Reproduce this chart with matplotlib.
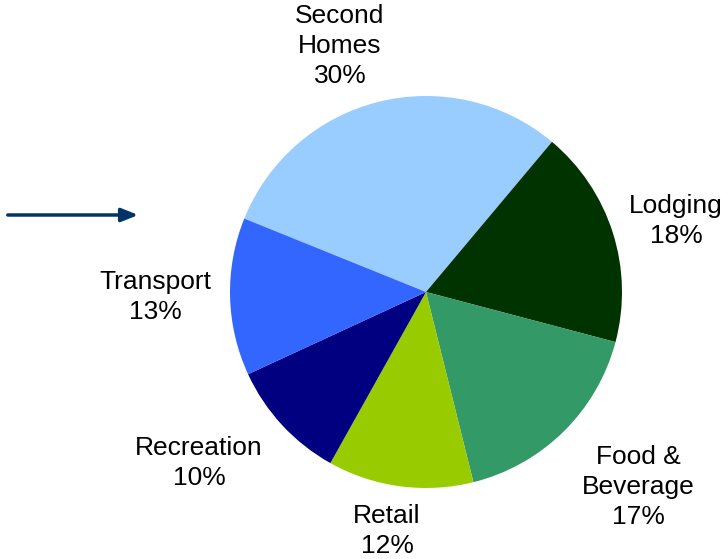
import matplotlib
matplotlib.use("Agg")
import matplotlib.pyplot as plt

# データ
categories = ["Second\nHomes", "Lodging", "Food &\nBeverage", "Retail", "Recreation", "Transport"]
shares = [30, 18, 17, 12, 10, 13]
colors = ["#99CCFF", "#003300", "#339966", "#99CC00", "#000080", "#3366FF"]

# ラベル位置 (ピクセル, 左上原点)
label_pos = [(340, 46), (676, 221), (638, 487), (387, 531), (199, 463), (155, 297)]

W, H = 726, 559
plt.rcParams['font.family'] = ['Liberation Sans', 'DejaVu Sans']

fig = plt.figure(figsize=(W / 100, H / 100), dpi=100)
ax = fig.add_axes([0, 0, 1, 1])

cx, cy, r = 426, H - 292, 196
ax.pie(shares, colors=colors, startangle=158, counterclock=False,
       center=(cx, cy), radius=r, frame=True,
       wedgeprops=dict(linewidth=0))
ax.set_xlim(0, W)
ax.set_ylim(0, H)
ax.set_aspect("equal")
ax.axis("off")

for name, val, (px, py) in zip(categories, shares, label_pos):
    ax.text(px, H - py, f"{name}\n{val}%", ha="center", va="center",
            fontsize=19, color="black", linespacing=1.33)

# 矢印
ax.annotate("", xy=(141, H - 215), xytext=(5, H - 215),
            arrowprops=dict(arrowstyle="-|>,head_length=1.0,head_width=0.4",
                            color="#003366", lw=2.5))

fig.savefig("out.png", dpi=100)
